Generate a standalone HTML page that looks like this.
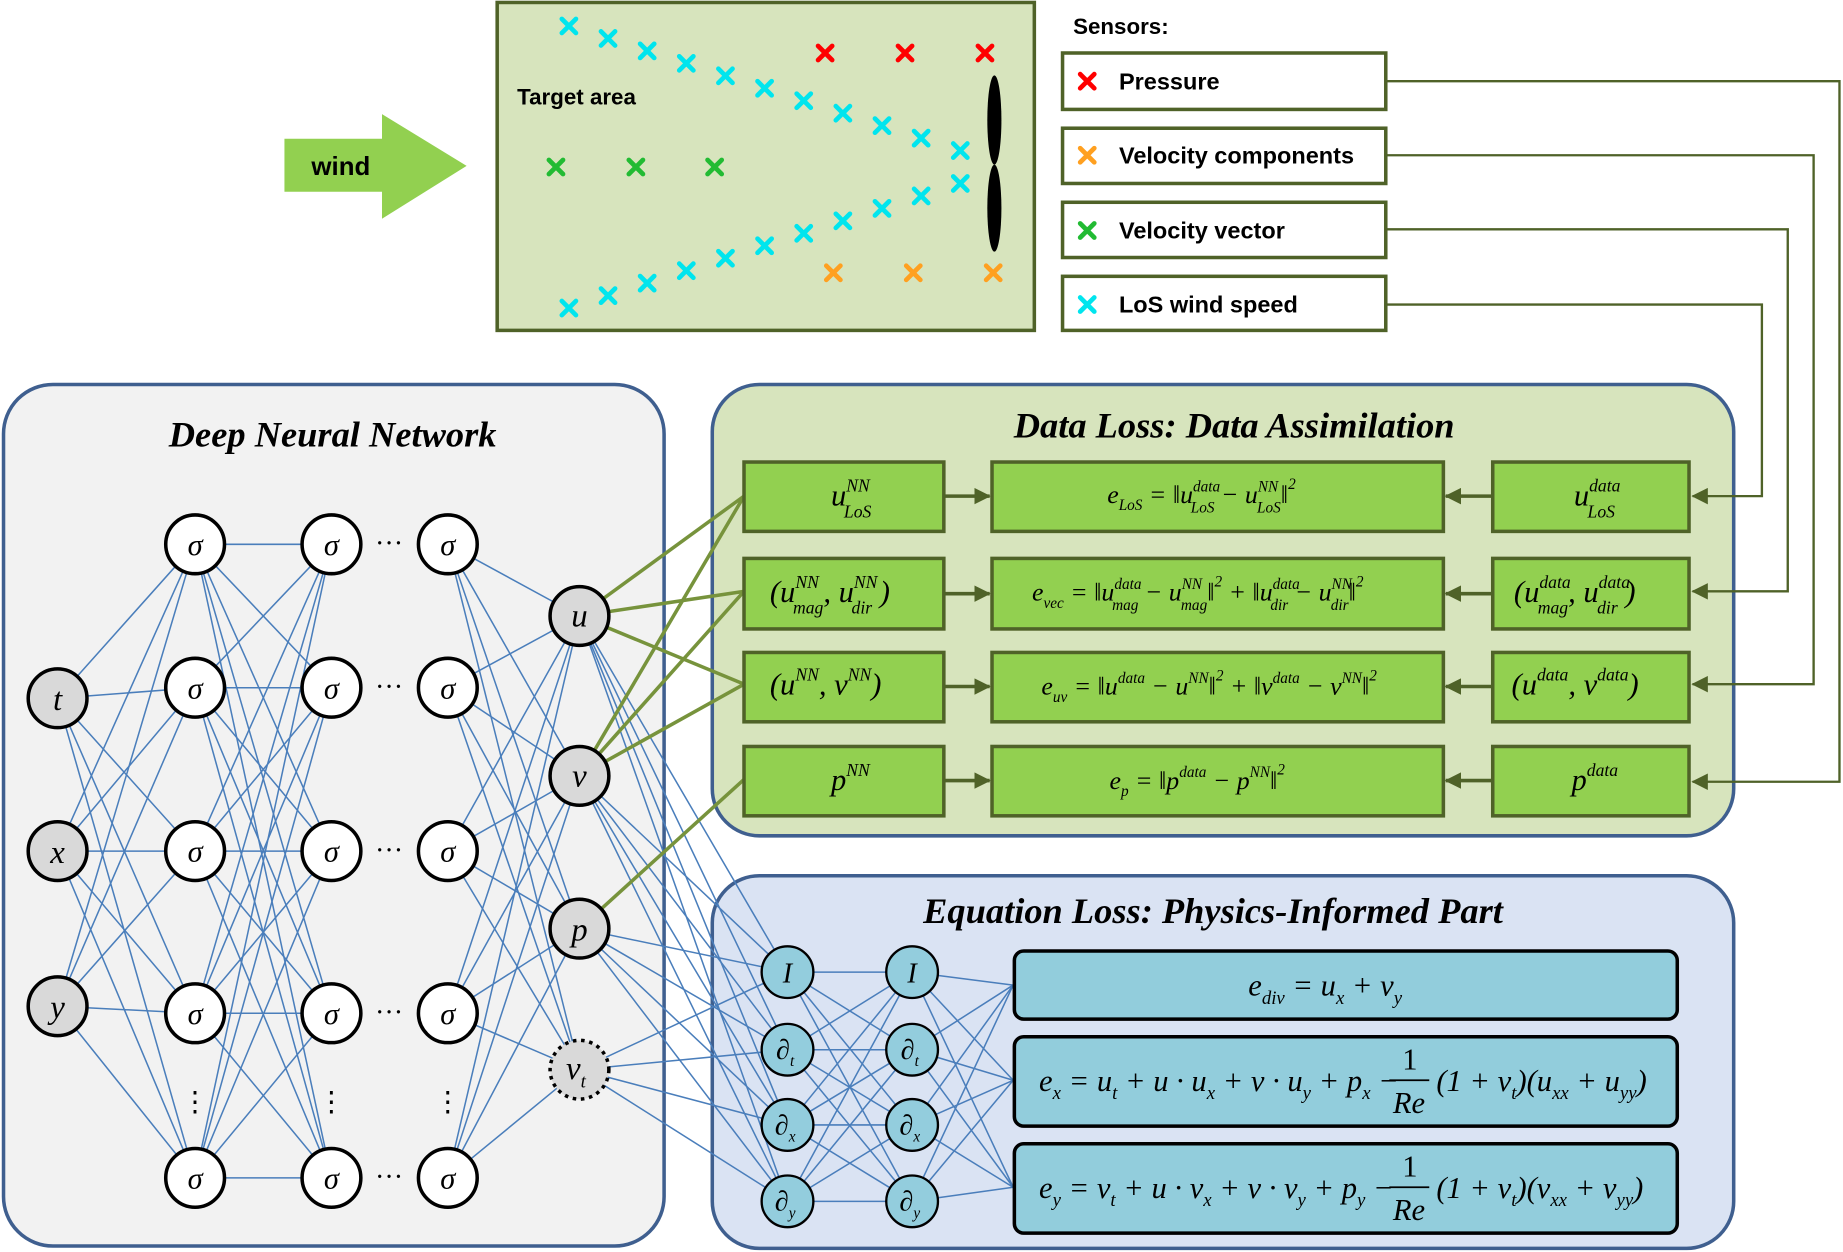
<!DOCTYPE html>
<html><head><meta charset="utf-8"><style>
html,body{margin:0;padding:0;background:#fff;}
svg{display:block;}
.b{font-family:"Liberation Sans",sans-serif;font-weight:bold;}
.m{font-family:"Liberation Serif",serif;font-style:italic;}
.t{font-family:"Liberation Serif",serif;font-style:italic;font-weight:bold;font-size:31px;}
</style></head><body>
<svg id="s" width="1843" height="1252" viewBox="0 0 1568 1065" xmlns="http://www.w3.org/2000/svg">
<defs>
<marker id="ar2" markerWidth="14" markerHeight="14" refX="13" refY="7" orient="auto" markerUnits="userSpaceOnUse"><path d="M0,0 L14,7 L0,14 z" fill="#4f6228"/></marker>
</defs>
<rect width="1568" height="1065" fill="#fff"/>
<!-- wind -->
<polygon points="242,118 325,118 325,97 397,141 325,186 325,163 242,163" fill="#92d050"/>
<text x="290" y="149" class="b" font-size="22" text-anchor="middle">wind</text>
<!-- target area -->
<rect x="423" y="2" width="457" height="279" fill="#d7e4bd" stroke="#4f6228" stroke-width="3"/>
<text x="440" y="89" class="b" font-size="19">Target area</text>
<g id="crosses"></g>
<ellipse cx="846" cy="102" rx="6" ry="38" fill="#000"/>
<ellipse cx="846" cy="177" rx="6" ry="37" fill="#000"/>
<text x="913" y="29" class="b" font-size="19">Sensors:</text>
<g stroke="#4f6228" stroke-width="3" fill="#fff">
<rect x="904" y="45" width="275" height="48"/><rect x="904" y="109" width="275" height="47"/>
<rect x="904" y="172" width="275" height="47"/><rect x="904" y="235" width="275" height="46"/>
</g>
<g id="lcross"></g>
<g class="b" font-size="20">
<text x="952" y="76">Pressure</text><text x="952" y="139">Velocity components</text>
<text x="952" y="203">Velocity vector</text><text x="952" y="266">LoS wind speed</text>
</g>
<!-- panels -->
<rect x="3" y="327" width="562" height="733" rx="42" fill="#f2f2f2" stroke="#3f5f8f" stroke-width="3"/>
<rect x="606" y="327" width="869" height="384" rx="40" fill="#d7e4bd" stroke="#3f5f8f" stroke-width="3"/>
<rect x="606" y="745" width="869" height="317" rx="40" fill="#dae3f3" stroke="#3f5f8f" stroke-width="3"/>
<g fill="none" stroke="#4f6228" stroke-width="2">
<polyline points="1179,69 1565,69 1565,665 1440,665" marker-end="url(#ar2)"/>
<polyline points="1179,132 1543,132 1543,582 1440,582" marker-end="url(#ar2)"/>
<polyline points="1179,195 1521,195 1521,503 1440,503" marker-end="url(#ar2)"/>
<polyline points="1179,259 1499,259 1499,422 1440,422" marker-end="url(#ar2)"/>
</g>
<text x="283" y="380" class="t" text-anchor="middle">Deep Neural Network</text>
<text x="1050" y="372" class="t" text-anchor="middle">Data Loss: Data Assimilation</text>
<text x="1032" y="785" class="t" text-anchor="middle">Equation Loss: Physics-Informed Part</text>
<g id="lines" stroke="#4a7ebb" stroke-width="1.3"></g>
<g id="glines" stroke="#77933c" stroke-width="3"></g>
<!-- data loss boxes -->
<g fill="#92d050" stroke="#4f6228" stroke-width="3">
<rect x="633" y="393" width="170" height="59"/><rect x="844" y="393" width="384" height="59"/><rect x="1270" y="393" width="167" height="59"/>
<rect x="633" y="475" width="170" height="60"/><rect x="844" y="475" width="384" height="60"/><rect x="1270" y="475" width="167" height="60"/>
<rect x="633" y="555" width="170" height="59"/><rect x="844" y="555" width="384" height="59"/><rect x="1270" y="555" width="167" height="59"/>
<rect x="633" y="635" width="170" height="59"/><rect x="844" y="635" width="384" height="59"/><rect x="1270" y="635" width="167" height="59"/>
</g>
<g stroke="#4f6228" stroke-width="3">
<line x1="803" y1="422" x2="842" y2="422" marker-end="url(#ar2)"/><line x1="1270" y1="422" x2="1230" y2="422" marker-end="url(#ar2)"/>
<line x1="803" y1="505" x2="842" y2="505" marker-end="url(#ar2)"/><line x1="1270" y1="505" x2="1230" y2="505" marker-end="url(#ar2)"/>
<line x1="803" y1="584" x2="842" y2="584" marker-end="url(#ar2)"/><line x1="1270" y1="584" x2="1230" y2="584" marker-end="url(#ar2)"/>
<line x1="803" y1="664" x2="842" y2="664" marker-end="url(#ar2)"/><line x1="1270" y1="664" x2="1230" y2="664" marker-end="url(#ar2)"/>
</g>
<g class="m" font-size="26">
<text x="707" y="430">u<tspan font-size="15" dy="-12">NN</tspan><tspan font-size="15" dx="-22" dy="22">LoS</tspan></text>
<text x="1339" y="430">u<tspan font-size="15" dy="-12">data</tspan><tspan font-size="15" dx="-28" dy="22">LoS</tspan></text>
<text x="655" y="512">(u<tspan font-size="15" dy="-12">NN</tspan><tspan font-size="15" dx="-22" dy="22">mag</tspan><tspan dy="-10">,  u</tspan><tspan font-size="15" dy="-12">NN</tspan><tspan font-size="15" dx="-22" dy="22">dir</tspan><tspan dy="-10"> )</tspan></text>
<text x="1288" y="512">(u<tspan font-size="15" dy="-12">data</tspan><tspan font-size="15" dx="-28" dy="22">mag</tspan><tspan dy="-10">,  u</tspan><tspan font-size="15" dy="-12">data</tspan><tspan font-size="15" dx="-28" dy="22">dir</tspan><tspan dy="-10"> )</tspan></text>
<text x="655" y="591">(u<tspan font-size="15" dy="-12">NN</tspan><tspan dy="12">,  v</tspan><tspan font-size="15" dy="-12">NN</tspan><tspan dy="12">)</tspan></text>
<text x="1286" y="591">(u<tspan font-size="15" dy="-12">data</tspan><tspan dy="12">,  v</tspan><tspan font-size="15" dy="-12">data</tspan><tspan dy="12">)</tspan></text>
<text x="707" y="672">p<tspan font-size="15" dy="-12">NN</tspan></text>
<text x="1337" y="672">p<tspan font-size="15" dy="-12">data</tspan></text>
</g>
<g class="m" font-size="22">
<text x="942" y="428">e<tspan font-size="13" dy="6">LoS</tspan><tspan dy="-6"> = ‖u</tspan><tspan font-size="13" dy="-10">data</tspan><tspan font-size="13" dx="-25" dy="18">LoS</tspan><tspan dy="-8"> − u</tspan><tspan font-size="13" dy="-10">NN</tspan><tspan font-size="13" dx="-18" dy="18">LoS</tspan><tspan dy="-8">‖</tspan><tspan font-size="13" dy="-12">2</tspan></text>
<text x="878" y="511">e<tspan font-size="13" dy="6">vec</tspan><tspan dy="-6"> = ‖u</tspan><tspan font-size="13" dy="-10">data</tspan><tspan font-size="13" dx="-25" dy="18">mag</tspan><tspan dy="-8"> − u</tspan><tspan font-size="13" dy="-10">NN</tspan><tspan font-size="13" dx="-18" dy="18">mag</tspan><tspan dy="-8">‖</tspan><tspan font-size="13" dy="-12">2</tspan><tspan dy="12"> + ‖u</tspan><tspan font-size="13" dy="-10">data</tspan><tspan font-size="13" dx="-25" dy="18">dir</tspan><tspan dy="-8"> − u</tspan><tspan font-size="13" dy="-10">NN</tspan><tspan font-size="13" dx="-18" dy="18">dir</tspan><tspan dy="-8">‖</tspan><tspan font-size="13" dy="-12">2</tspan></text>
<text x="886" y="591">e<tspan font-size="13" dy="6">uv</tspan><tspan dy="-6"> = ‖u</tspan><tspan font-size="13" dy="-10">data</tspan><tspan dy="10"> − u</tspan><tspan font-size="13" dy="-10">NN</tspan><tspan dy="10">‖</tspan><tspan font-size="13" dy="-12">2</tspan><tspan dy="12"> + ‖v</tspan><tspan font-size="13" dy="-10">data</tspan><tspan dy="10"> − v</tspan><tspan font-size="13" dy="-10">NN</tspan><tspan dy="10">‖</tspan><tspan font-size="13" dy="-12">2</tspan></text>
<text x="944" y="671">e<tspan font-size="13" dy="6">p</tspan><tspan dy="-6"> = ‖p</tspan><tspan font-size="13" dy="-10">data</tspan><tspan dy="10"> − p</tspan><tspan font-size="13" dy="-10">NN</tspan><tspan dy="10">‖</tspan><tspan font-size="13" dy="-12">2</tspan></text>
</g>
<!-- equation boxes -->
<g fill="#92cddc" stroke="#000" stroke-width="3">
<rect x="863" y="809" width="564" height="58" rx="8"/>
<rect x="863" y="882" width="564" height="76" rx="8"/>
<rect x="863" y="973" width="564" height="76" rx="8"/>
</g>
<g class="m" font-size="26">
<text x="1062" y="847">e<tspan font-size="16" dy="7">div</tspan><tspan dy="-7"> = u</tspan><tspan font-size="16" dy="7">x</tspan><tspan dy="-7"> + v</tspan><tspan font-size="16" dy="7">y</tspan></text>
<text x="884" y="928">e<tspan font-size="16" dy="7">x</tspan><tspan dy="-7"> = u</tspan><tspan font-size="16" dy="7">t</tspan><tspan dy="-7"> + u · u</tspan><tspan font-size="16" dy="7">x</tspan><tspan dy="-7"> + v · u</tspan><tspan font-size="16" dy="7">y</tspan><tspan dy="-7"> + p</tspan><tspan font-size="16" dy="7">x</tspan><tspan dy="-7"> −</tspan></text>
<text x="1193" y="910" font-style="normal">1</text><line x1="1182" y1="919" x2="1216" y2="919" stroke="#000" stroke-width="1.5"/><text x="1185" y="947">Re</text>
<text x="1222" y="928">(1 + ν<tspan font-size="16" dy="7">t</tspan><tspan dy="-7">)(u</tspan><tspan font-size="16" dy="7">xx</tspan><tspan dy="-7"> + u</tspan><tspan font-size="16" dy="7">yy</tspan><tspan dy="-7">)</tspan></text>
<text x="884" y="1019">e<tspan font-size="16" dy="7">y</tspan><tspan dy="-7"> = v</tspan><tspan font-size="16" dy="7">t</tspan><tspan dy="-7"> + u · v</tspan><tspan font-size="16" dy="7">x</tspan><tspan dy="-7"> + v · v</tspan><tspan font-size="16" dy="7">y</tspan><tspan dy="-7"> + p</tspan><tspan font-size="16" dy="7">y</tspan><tspan dy="-7"> −</tspan></text>
<text x="1193" y="1001" font-style="normal">1</text><line x1="1182" y1="1010" x2="1216" y2="1010" stroke="#000" stroke-width="1.5"/><text x="1185" y="1038">Re</text>
<text x="1222" y="1019">(1 + ν<tspan font-size="16" dy="7">t</tspan><tspan dy="-7">)(v</tspan><tspan font-size="16" dy="7">xx</tspan><tspan dy="-7"> + v</tspan><tspan font-size="16" dy="7">yy</tspan><tspan dy="-7">)</tspan></text>
</g>
<g id="nodes"></g>
<g class="m" font-size="28" text-anchor="middle">
<text x="49" y="604">t</text><text x="49" y="734">x</text><text x="49" y="866">y</text>
<text x="493" y="533">u</text><text x="493" y="669">v</text><text x="493" y="800">p</text><text x="490" y="918">ν<tspan font-size="16" dy="7">t</tspan></text>
</g>
<g class="m" font-size="26" text-anchor="middle">
<text x="166" y="472">σ</text><text x="282" y="472">σ</text><text x="381" y="472">σ</text>
<text x="166" y="594">σ</text><text x="282" y="594">σ</text><text x="381" y="594">σ</text>
<text x="166" y="733">σ</text><text x="282" y="733">σ</text><text x="381" y="733">σ</text>
<text x="166" y="871">σ</text><text x="282" y="871">σ</text><text x="381" y="871">σ</text>
<text x="166" y="1011">σ</text><text x="282" y="1011">σ</text><text x="381" y="1011">σ</text>
</g>
<g font-family="Liberation Serif,serif" font-size="24" text-anchor="middle">
<text x="331" y="470">···</text><text x="331" y="592">···</text><text x="331" y="731">···</text><text x="331" y="869">···</text><text x="331" y="1009">···</text>
<text x="166" y="945">⋮</text><text x="282" y="945">⋮</text><text x="381" y="945">⋮</text>
</g>
<g class="m" font-size="24" text-anchor="middle">
<text x="670" y="836">I</text><text x="776" y="836">I</text>
<text x="668" y="901">∂<tspan font-size="13" dy="6">t</tspan></text><text x="774" y="901">∂<tspan font-size="13" dy="6">t</tspan></text>
<text x="668" y="965">∂<tspan font-size="13" dy="6">x</tspan></text><text x="774" y="965">∂<tspan font-size="13" dy="6">x</tspan></text>
<text x="668" y="1030">∂<tspan font-size="13" dy="6">y</tspan></text><text x="774" y="1030">∂<tspan font-size="13" dy="6">y</tspan></text>
</g>
</svg>
<script>
const NS="http://www.w3.org/2000/svg";
function el(p,t,a){const e=document.createElementNS(NS,t);for(const k in a)e.setAttribute(k,a[k]);p.appendChild(e);return e;}
const L=document.getElementById('lines'),G=document.getElementById('glines'),N=document.getElementById('nodes'),C=document.getElementById('crosses'),LC=document.getElementById('lcross');
const inp=[[49,594],[49,724],[49,856]],rows=[463,585,724,862,1002];
const c1=rows.map(y=>[166,y]),c2=rows.map(y=>[282,y]),c3=rows.map(y=>[381,y]);
const out=[[493,524],[493,660],[493,790],[493,910]];
const e1=[827,893,957,1022].map(y=>[670,y]),e2=[827,893,957,1022].map(y=>[776,y]);
function full(A,B){A.forEach(a=>B.forEach(b=>el(L,'line',{x1:a[0],y1:a[1],x2:b[0],y2:b[1]})));}
full(inp,c1);full(c1,c2);full(c3,out);full(out,e1);full(e1,e2);
e2.forEach(a=>[838,919,1010].forEach(y=>el(L,'line',{x1:a[0],y1:a[1],x2:862,y2:y})));
[[0,422],[0,503],[0,582],[1,422],[1,503],[1,582],[2,663]].forEach(([i,y])=>el(G,'line',{x1:out[i][0],y1:out[i][1],x2:633,y2:y}));
inp.forEach(p=>el(N,'circle',{cx:p[0],cy:p[1],r:25,fill:'#d9d9d9',stroke:'#000','stroke-width':3}));
[...c1,...c2,...c3].forEach(p=>el(N,'circle',{cx:p[0],cy:p[1],r:25,fill:'#fff',stroke:'#000','stroke-width':3}));
out.forEach((p,i)=>el(N,'circle',{cx:p[0],cy:p[1],r:25,fill:'#d9d9d9',stroke:'#000','stroke-width':3,'stroke-dasharray':i==3?'3,4':'none'}));
[...e1,...e2].forEach(p=>el(N,'circle',{cx:p[0],cy:p[1],r:22,fill:'#93cddd',stroke:'#000','stroke-width':2}));
function X(g,x,y,c){el(g,'path',{d:`M${x-6},${y-6}L${x+6},${y+6}M${x+6},${y-6}L${x-6},${y+6}`,stroke:c,'stroke-width':4,'stroke-linecap':'round'});}
for(let i=0;i<11;i++){X(C,484+i*33.3,22+i*10.6,'#00e5ee');X(C,484+i*33.3,262-i*10.6,'#00e5ee');}
[702,770,838].forEach(x=>X(C,x,45,'#ff0000'));[473,541,608].forEach(x=>X(C,x,142,'#22bb33'));[709,777,845].forEach(x=>X(C,x,232,'#ffa020'));
X(LC,925,69,'#ff0000');X(LC,925,132,'#ffa020');X(LC,925,196,'#22bb33');X(LC,925,259,'#00e5ee');
</script>
</body></html>
